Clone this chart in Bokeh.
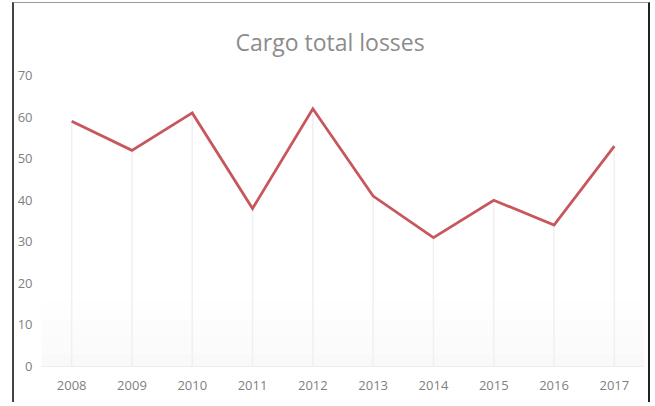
from bokeh.plotting import figure
from bokeh.models import ColumnDataSource, FixedTicker, BoxAnnotation
from bokeh.embed import file_html
from bokeh.resources import INLINE

years = [2008, 2009, 2010, 2011, 2012, 2013, 2014, 2015, 2016, 2017]
losses = [59, 52, 61, 38, 62, 41, 31, 40, 34, 53]
y_ticks = [0, 10, 20, 30, 40, 50, 60, 70]
title_text = "Cargo total losses"

zeros = [0] * len(years)
src = ColumnDataSource(dict(year=years, loss=losses, zero=zeros))

p = figure(width=638, height=400, output_backend="svg", toolbar_location=None,
           x_range=(years[0] - 0.5, years[-1] + 0.5), y_range=(y_ticks[0], y_ticks[-1]),
           min_border_left=20, min_border_right=8, min_border_top=72, min_border_bottom=37,
           background_fill_color="white", border_fill_color="white",
           margin=(2, 0, 0, 12))
p.styles = {"border-left": "2px solid #444444", "border-right": "2px solid #222222",
            "border-top": "1px solid #9a9a9a"}
p.outline_line_color = None

p.title.text = title_text
p.title.align = "left"
p.title.text_font = "Open Sans"
p.title.text_font_size = "23px"
p.title.text_font_style = "normal"
p.title.text_color = "#8c8c8c"
p.title.offset = 194
p.title.standoff = 36

# faint bottom shading
for lo, hi, a in [(0, 3, 0.05), (3, 7, 0.035), (7, 11, 0.022), (11, 16, 0.012)]:
    p.add_layout(BoxAnnotation(bottom=lo, top=hi, fill_color="#888888", fill_alpha=a,
                               line_color=None, level="underlay"))

p.segment(x0="year", y0="zero", x1="year", y1="loss", source=src,
          line_color="#f0f0f0", line_width=1.5)
p.line(x="year", y="loss", source=src, line_color="#c8575d", line_width=2.8,
       line_join="miter")

p.xgrid.grid_line_color = None
p.ygrid.grid_line_color = None

p.xaxis.ticker = FixedTicker(ticks=years)
p.yaxis.ticker = FixedTicker(ticks=y_ticks)
for ax in (p.xaxis[0], p.yaxis[0]):
    ax.major_tick_line_color = None
    ax.minor_tick_line_color = None
    ax.major_label_text_font = "Open Sans"
    ax.major_label_text_font_size = "13px"
    ax.major_label_text_color = "#7f7f7f"
p.xaxis.axis_line_color = "#eeeeee"
p.yaxis.axis_line_color = None
p.xaxis.major_label_standoff = 8
p.yaxis.major_label_standoff = 3

open("out.html", "w").write(file_html(p, INLINE))
